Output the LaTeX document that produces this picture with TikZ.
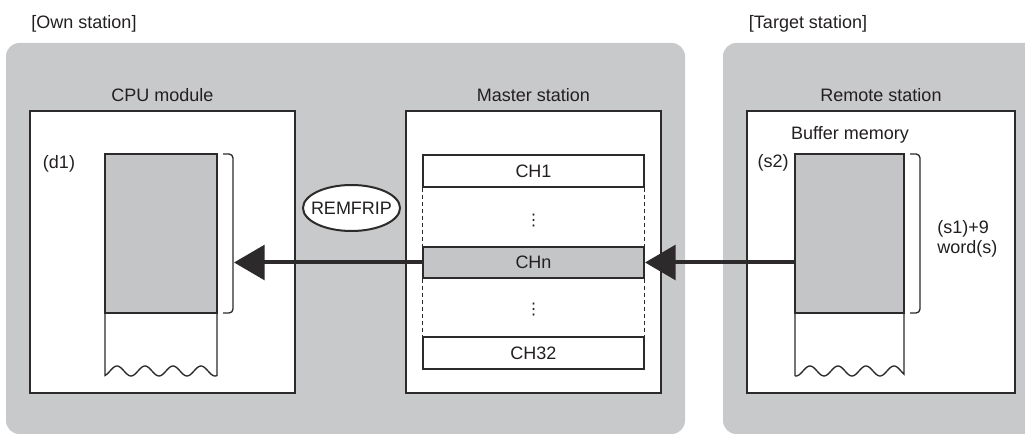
\documentclass[tikz,border=0pt]{standalone}
\usepackage{fontspec}
\setmainfont{Liberation Sans}
\newfontfamily\symf{DejaVu Sans}
\usetikzlibrary{shapes.geometric,arrows.meta}
\definecolor{panelgray}{RGB}{200,201,203}
\definecolor{memgray}{RGB}{196,197,199}
\definecolor{linec}{RGB}{45,42,43}
\definecolor{textc}{RGB}{35,31,32}
\tikzset{
  lbl/.style={anchor=base, text=textc, inner sep=0pt, font=\fontsize{13.5}{16}\selectfont},
  box/.style={draw=linec, line width=1pt, fill=white, rectangle, inner sep=0pt},
  membox/.style={draw=linec, line width=1pt, fill=memgray, rectangle, inner sep=0pt},
  chbox/.style={draw=linec, line width=1pt, rectangle, inner sep=0pt, text=textc,
     font=\fontsize{13.5}{16}\selectfont, minimum width=165.75pt},
  thin/.style={draw=linec, line width=1pt},
  dashline/.style={draw=linec, line width=0.8pt, dash pattern=on 3pt off 2.25pt},
  bigarrow/.style={draw=linec, line width=3pt, -{Triangle[length=23pt,width=26pt]}},
  panel/.style={fill=panelgray, rounded corners=10pt},
  vdotsty/.style={text=textc, inner sep=0pt, font=\symf\fontsize{12}{14}\selectfont}
}
\begin{document}
\begin{tikzpicture}[x=0.75pt,y=-0.75pt]
\useasboundingbox (0,0) rectangle (1025,434);
% panels
\fill[panel] (6,43) rectangle (685,434);
\fill[panel] (723,43) rectangle (1045,434);
\node[lbl] (ownt) at (84,29) {[Own station]};
\node[lbl] (tgtt) at (808,29) {[Target station]};
% main boxes
\node[box, minimum width=198.75pt, minimum height=211.5pt] (cpu) at (162.5,252) {};
\node[box, minimum width=191.25pt, minimum height=211.5pt] (master) at (533.5,252) {};
\node[box, minimum width=201pt, minimum height=211.5pt] (remote) at (881,252) {};
\node[lbl] (cput) at (162.5,102) {CPU module};
\node[lbl] (mastt) at (533.5,102) {Master station};
\node[lbl] (remt) at (881,102) {Remote station};
\node[lbl] (buft) at (850,140) {Buffer memory};
% CPU memory
\draw[thin] (105,313) -- (105,375.5) -- plot[domain=0:112,samples=80] ({105+\x},{371-5*cos(12.857*(\x-12))}) -- (217,313);
\node[membox, minimum width=84pt, minimum height=119.25pt] (dmem) at (161,233.5) {};
\draw[thin, rounded corners=3pt] (223,154) -- (233,154) -- (233,313) -- (223,313);
\node[lbl] (d1) at (59,169) {(d1)};
% Remote memory
\draw[thin] (795,313) -- (795,375.9) -- plot[domain=0:109,samples=80] ({795+\x},{371-5*cos(12.857*(\x-15))}) -- (904,313);
\node[membox, minimum width=81.75pt, minimum height=119.25pt] (smem) at (849.5,233.5) {};
\draw[thin, rounded corners=3pt] (910,154) -- (920,154) -- (920,313) -- (910,313);
\node[lbl] (s2) at (773,168) {(s2)};
\node[lbl, anchor=base west] (s1) at (937,234) {(s1)+9};
\node[lbl, anchor=base west] (words) at (937,254) {word(s)};
% Channels
\node[chbox, fill=white, minimum height=24pt] (ch1) at (533.5,171) {CH1};
\node[chbox, fill=memgray, minimum height=23.25pt] (chn) at (533.5,262.5) {CHn};
\node[chbox, fill=white, minimum height=24pt] (ch32) at (533.5,353) {CH32};
\draw[dashline] (ch1.south west) -- (chn.north west);
\draw[dashline] (ch1.south east) -- (chn.north east);
\draw[dashline] (chn.south west) -- (ch32.north west);
\draw[dashline] (chn.south east) -- (ch32.north east);
\node[vdotsty] (vd1) at (533.5,221) {⋮};
\node[vdotsty] (vd2) at (533.5,310) {⋮};
% REMFRIP
\node[ellipse, draw=linec, line width=1.5pt, fill=white, inner sep=0pt,
      minimum width=72.75pt, minimum height=34.5pt, text=textc,
      font=\fontsize{13.5}{16}\selectfont] (rem) at (351.5,208) {\makebox[0pt]{REMFRIP}};
% arrows
\coordinate (dtip) at (234,262.5);
\coordinate (sstart) at (smem.west |- chn.east);
\draw[bigarrow] (chn.west) -- (dtip);
\draw[bigarrow, shorten >=-2pt] (sstart) -- ([xshift=2.25pt]chn.east);
\end{tikzpicture}
\end{document}
